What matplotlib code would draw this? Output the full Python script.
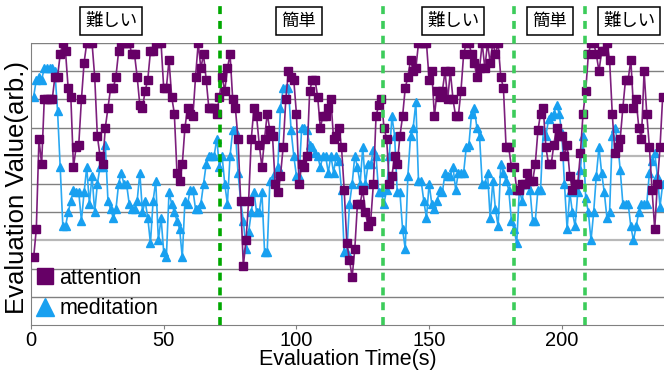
import numpy as np
import matplotlib
matplotlib.use("Agg")
import matplotlib.pyplot as plt
from matplotlib.lines import Line2D


# attention / meditation readings, one sample per second starting at t=1
attention = [
    24, 34, 66, 57, 80, 80, 80, 80, 88, 88,
    96, 100, 97, 84, 81, 56, 63, 64, 80, 93,
    100, 100, 100, 88, 67, 60, 57, 70, 77, 84,
    84, 88, 97, 100, 100, 100, 100, 96, 96, 88,
    78, 77, 83, 87, 97, 97, 100, 100, 100, 84,
    84, 94, 81, 75, 54, 51, 57, 70, 77, 75,
    74, 88, 100, 91, 96, 87, 77, 77, 77, 75,
    81, 88, 83, 91, 96, 80, 77, 66, 44, 21,
    30, 44, 66, 77, 74, 64, 56,
    66, 75, 69, 67, 50, 47, 53, 63, 80, 90, 88, 87,
    75, 50, 57, 56, 60, 83, 87, 87, 81, 70,
    74, 74, 77, 80, 66, 67, 70, 63, 48, 29,
    23, 17, 27, 43, 43, 48, 40, 35, 37, 50,
    74, 78, 80, 70, 66, 50, 53, 60, 57, 67,
    74, 84, 88, 94, 90, 91, 100, 100, 100, 100,
    87, 90, 74, 83, 81, 83, 90, 80, 90, 80,
    74, 74, 83, 96, 100, 100, 96, 93, 88, 91,
    100, 91, 100, 93, 100, 96, 100, 88, 84, 63,
    63, 56, 56, 48, 48, 50, 50, 54, 51, 51,
    57, 69, 75, 77, 63, 57, 57, 64, 70, 67,
    67, 60, 64, 53, 48, 50, 50, 61, 75, 83,
    96, 100, 100, 96, 90, 97, 97, 100, 94, 75,
    61, 63, 66, 77, 87, 87, 94, 77, 80, 70,
    66, 90, 75, 63, 48, 34, 50, 63, 81,
]

meditation = [
    81, 87, 88, 87, 91, 91, 91, 91, 90, 76,
    56, 35, 35, 40, 44, 48, 47, 47, 37, 47,
    56, 43, 53, 40, 50, 56, 56, 64, 44, 41,
    38, 41, 50, 54, 50, 50, 43, 41, 41, 44,
    54, 40, 44, 38, 29, 44, 51, 30, 38, 26,
    24, 47, 43, 40, 37, 34, 24, 44, 43, 48,
    48, 41, 41, 43, 50, 57, 60, 60, 60, 66,
    56, 60, 50, 43, 60, 69, 69, 54, 44, 37,
    27, 33, 40, 47, 40, 40, 47, 26, 26, 51,
    51, 54, 56, 77, 84, 84, 84, 69, 60, 53,
    53, 70, 70, 69, 64, 63, 61, 60, 56, 60,
    60, 54, 60, 54, 60, 58, 48, 26, 26, 43,
    50, 60, 56, 50, 63, 50, 57, 57, 62, 60,
    47, 47, 43, 48, 60, 74, 67, 47, 47, 34,
    27, 53, 67, 70, 79, 51, 51, 44, 38, 50,
    43, 41, 44, 48, 47, 54, 53, 53, 56, 48,
    54, 54, 54, 63, 64, 75, 77, 70, 67, 50,
    50, 54, 38, 51, 41, 35, 57, 54, 51, 48,
    37, 34, 29, 48, 44, 50, 50, 48, 37, 37,
    48, 48, 69, 67, 73, 74, 75, 78, 75, 68,
    50, 34, 47, 40, 35, 47, 55, 67, 45, 40,
    30, 40, 53, 63, 54, 47, 38, 40, 67, 70,
    65, 55, 43, 43, 43, 35, 30, 35, 40, 43,
    43, 43, 54, 58, 61, 53, 42, 50,
]

# task switches (s) and the task label shown above each block
phase_bounds = [71.3, 132.5, 182, 208.9]
phase_colors = ["#00a800", "#3ccc5a", "#3ccc5a", "#3ccc5a"]
phase_labels = ["難しい", "簡単", "難しい", "簡単", "難しい"]
label_px = [111, 299, 453, 550, 629]   # box centres in figure pixels

x_ticks = [0, 50, 100, 150, 200]

FONT = ["Liberation Sans", "DejaVu Sans"]
CJK = ["Noto Sans CJK JP", "DejaVu Sans"]


def main() -> None:
    plt.rcParams["font.family"] = FONT
    W, H = 664, 376
    fig = plt.figure(figsize=(W / 100, H / 100), dpi=100)
    ax = fig.add_axes([31 / W, 1 - 325 / H, (W - 31) / W, 282 / H])

    time = np.arange(1, len(attention) + 1)

    # horizontal grid, drawn by hand (lines at 30/60 look paler in source)
    for v in range(10, 101, 10):
        pale = v in (30, 60)
        ax.axhline(v, color="#b8b8b8" if pale else "#808080",
                   lw=1.6 if pale else 1.0, zorder=0)

    ax.plot(time, meditation, color="#2aa8f2", lw=1.2, marker="^",
            ms=6, mfc="#18a0f0", mec="#18a0f0", zorder=2)
    ax.plot(time, attention, color="#7d1f7d", lw=1.2, marker="s",
            ms=5.5, mfc="#660066", mec="#660066", zorder=3)

    top = (325 - 5) / 2.82
    for b, c in zip(phase_bounds, phase_colors):
        ax.plot([b, b], [0, top], color=c, lw=2.6, dashes=(2.2, 1.9),
                clip_on=False, zorder=4)

    for lab, px in zip(phase_labels, label_px):
        fig.text(px / W, 1 - 21 / H, lab, family=CJK, fontsize=12.5,
                 ha="center", va="center",
                 bbox=dict(boxstyle="square,pad=0.3", fc="white",
                           ec="black", lw=1.1))

    ax.set_xlim(0, 238.5)
    ax.set_ylim(0, 100)
    ax.set_yticks([])
    ax.set_xticks(x_ticks)
    ax.tick_params(axis="x", length=3, color="#808080", labelsize=14.5,
                   pad=1)
    for s in ("top", "right"):
        ax.spines[s].set_visible(False)
    ax.spines["left"].set_color("#808080")
    ax.spines["bottom"].set_color("#808080")

    ax.set_xlabel("Evaluation Time(s)", fontsize=15.5, va="center")
    ax.xaxis.set_label_coords((348 - 31) / 633, -(360 - 325) / 282)
    ax.set_ylabel("Evaluation Value(arb.)", fontsize=18.5, va="center")
    ax.yaxis.set_label_coords(-(31 - 17) / 633, (325 - 188) / 282)

    handles = [
        Line2D([], [], ls="none", marker="s", ms=11, color="#660066"),
        Line2D([], [], ls="none", marker="^", ms=12.5, color="#18a0f0"),
    ]
    ax.legend(handles, ["attention", "meditation"], loc="lower left",
              bbox_to_anchor=(0.004, 0.005), frameon=False, fontsize=15.5,
              handlelength=0.7, handletextpad=0.3, labelspacing=0.45,
              borderpad=0.2, borderaxespad=0.0)

    fig.savefig("out.png", dpi=100)


if __name__ == "__main__":
    main()
